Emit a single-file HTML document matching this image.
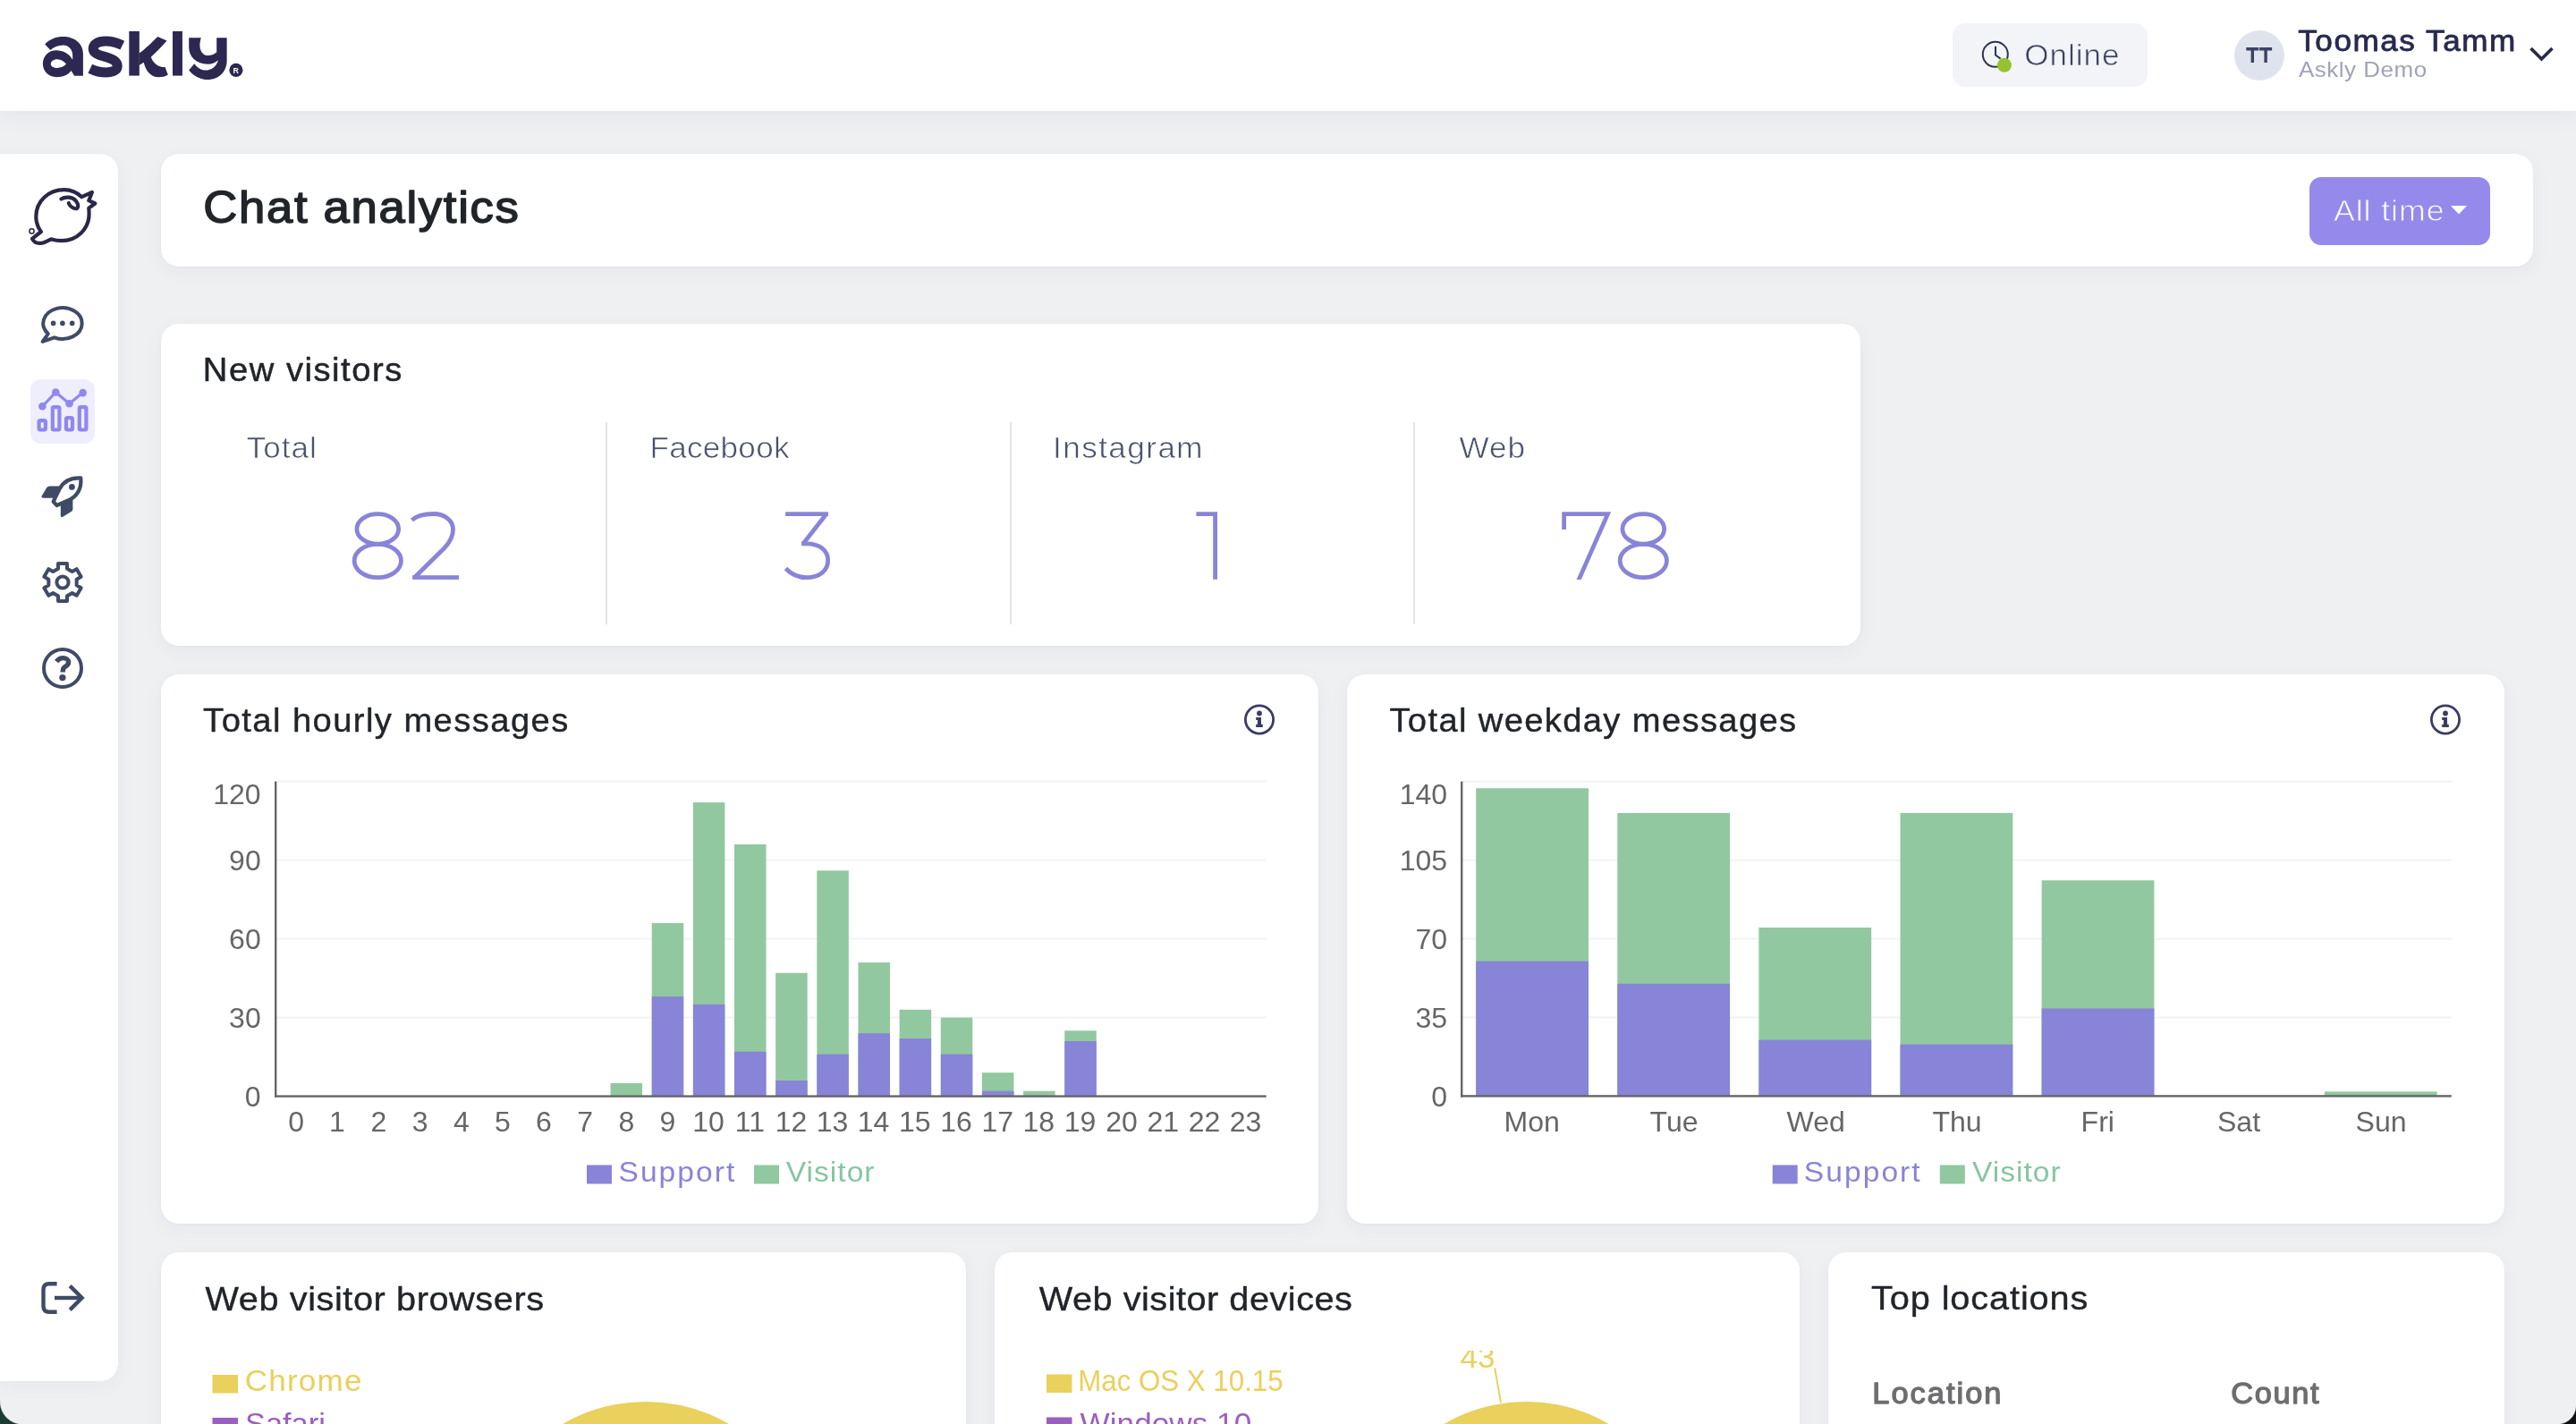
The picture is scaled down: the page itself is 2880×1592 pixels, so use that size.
<!DOCTYPE html>
<html><head><meta charset="utf-8"><title>Chat analytics</title>
<style>
html,body{margin:0;padding:0;overflow:hidden;background:#eff0f2;font-family:"Liberation Sans",sans-serif;}
#root{position:relative;width:2880px;height:1592px;overflow:hidden;background:#eff0f2;}
@media (max-width:1800px){#root{zoom:0.5}}
.a{position:absolute}
.card{position:absolute;background:#fff;border-radius:20px;box-shadow:0 6px 22px rgba(40,45,80,0.045),0 1px 3px rgba(40,45,80,0.03)}
svg text{font-family:"Liberation Sans",sans-serif;}
</style></head><body><div id="root">

<div class="a" style="left:0;top:0;width:2880px;height:124px;background:#fff;box-shadow:0 3px 26px rgba(40,45,80,0.07)"></div>
<div class="a" style="left:2183px;top:26px;width:218px;height:71px;border-radius:14px;background:#f3f4f7"></div>
<div class="a" style="left:2498px;top:34px;width:56px;height:56px;border-radius:50%;background:#dfe3ee"></div>
<div class="a" style="left:0;top:172px;width:132px;height:1372px;background:#fff;border-radius:0 20px 20px 0;box-shadow:0 6px 22px rgba(40,45,80,0.045)"></div>
<div class="a" style="left:34px;top:424px;width:72px;height:72px;border-radius:12px;background:#efeefc"></div>
<div class="card" style="left:180px;top:172px;width:2652px;height:126px"></div>
<div class="card" style="left:180px;top:362px;width:1900px;height:360px"></div>
<div class="card" style="left:180px;top:754px;width:1294px;height:614px"></div>
<div class="card" style="left:1506px;top:754px;width:1294px;height:614px"></div>
<div class="card" style="left:180px;top:1400px;width:900px;height:300px"></div>
<div class="card" style="left:1112px;top:1400px;width:900px;height:300px"></div>
<div class="card" style="left:2044px;top:1400px;width:756px;height:300px"></div>
<div class="a" style="left:2582px;top:198px;width:202px;height:76px;border-radius:13px;background:#958aeb"></div>
<div class="a" style="left:677px;top:472px;width:2px;height:226px;background:#e3e4e8"></div>
<div class="a" style="left:1129px;top:472px;width:2px;height:226px;background:#e3e4e8"></div>
<div class="a" style="left:1580px;top:472px;width:2px;height:226px;background:#e3e4e8"></div>
<div class="a" style="left:0;top:1566px;width:27px;height:26px;background:radial-gradient(circle at 25.4px 1px, rgba(0,0,0,0) 24.8px, #1c3d31 26px)"></div>
<div class="a" style="left:2857px;top:1570px;width:23px;height:22px;background:radial-gradient(circle at 2.2px 1.4px, rgba(0,0,0,0) 20.3px, #121212 21.5px)"></div>
<svg class="a" style="left:0;top:0;will-change:transform" width="2880" height="1592" viewBox="0 0 2880 1592">
<g fill="#2c2851">
<path fill-rule="evenodd" d="M50.2,49.4 C56,43.5 63,41 70.3,41 C84,41 92.9,49 92.9,60 L92.9,84.8 L83.1,84.8 L79.6,79 C76,84 70,86.2 63.3,86.2 C54,86.2 47.9,79.5 47.9,71.3 C47.9,62.5 54.5,56.2 62.8,56.2 C70.5,56.2 77.5,60 81.2,66.7 L81.2,62 C81.2,55 76.5,50.4 70.5,50.4 C65,50.4 60,52.5 56.3,55.9 Z M56.8,71.5 C56.8,68.5 60,66.2 64,66.2 C68,66.2 71.5,68.5 74,71.6 C71.5,74.5 68,76 64,76 C60,76 56.8,74.3 56.8,71.5 Z"/>
<path fill="none" stroke="#2c2851" stroke-width="11" d="M136.8,50.6 C130,47.3 124,46 118,46 C109.5,46 104.2,49.5 104.2,54.2 C104.2,59 108.5,61 117,63.3 C126,65.8 131.2,68.5 131.2,74 C131.2,78.6 126,81 118.5,81 C112,81 106,79.2 100.8,76.7"/>
<rect x="144.3" y="34.9" width="11.5" height="49.7"/>
<path d="M155.6,59.6 C162,55 170,47 176.4,40.9 L186.5,45.5 C180,53 175,58 168.8,63.7 C171,70 176,75 184.6,75.1 L187.8,83.8 C185,85.5 181,86.3 177.5,86.3 C168,86.3 162.5,78 160.7,69.7 L155.6,72.9 Z"/>
<rect x="193" y="34.9" width="10.9" height="49.7"/>
<path d="M242.2,42.2 L253.6,42.2 L253.6,68 C253.6,80.5 244,89 232.4,89 C223.5,89 216,84.5 211.2,78.4 L217.2,71.3 C220.5,75.8 225,78.6 229.7,78.6 C236.5,78.6 241.5,74.5 243.8,68 L242.2,66 Z"/>
<path d="M211.2,42.2 L224.8,42.2 C223.8,45.5 223.2,49 223.5,52.5 C224.2,58.5 228,62.1 232.4,62.1 C236.5,62.1 240,60.5 242.4,58 L243.6,67.6 C240,70.5 236.5,71.8 232.4,71.8 C219.5,71.8 211.2,63.5 211.2,52.8 Z"/>
<circle cx="263.9" cy="78.4" r="7.6"/>
</g>
<text x="260.5" y="81.6" font-size="8.8" font-weight="bold" fill="#fff">R</text>
<g fill="none" stroke="#2f3352" stroke-width="2">
<circle cx="2230.8" cy="60.8" r="14"/>
<path d="M2231,51.8 L2231,61.6 L2236.6,65.6" stroke-linejoin="miter"/>
</g>
<circle cx="2240.9" cy="72.8" r="8" fill="#95c22e"/>
<path d="M2829.5,54 L2841.5,66 L2853.5,54" fill="none" stroke="#262a4d" stroke-width="3.6"/>
<g fill="none" stroke="#2a2748" stroke-width="4.2" stroke-linejoin="round" stroke-linecap="round">
<path d="M91.4,220.2 C86,215 79,212.1 71.8,212.1 C54,212.1 40.3,225 40.3,242.1 C40.3,249 42.5,254.5 45.9,259 L36,266.9 C38,271 42,272.6 47,271.7 C51,270.8 54.5,268.2 57.7,267.4 C61,268.5 65,269.1 68.9,269.1 C86,269.1 99.6,256 99.6,239.3 C99.6,237 99.5,235 99.3,232.6 L106.3,227.5 L99.3,224.2 L102.9,214.9 Z"/>
<path d="M68.4,222.5 C73,219.6 81,219.8 85.2,225 C88.5,229.5 87.5,233.8 84.3,233.2 C80.5,232.5 77.5,229.5 76.8,227"/>
</g>
<circle cx="35.5" cy="258.4" r="2.6" fill="#fff" stroke="#2a2748" stroke-width="1.5"/>
<g fill="none" stroke="#3f4b66" stroke-width="4" stroke-linejoin="round">
<path d="M60.83,377.27 A21.7,17.4 0 1 0 53.87,373.14 L47.6,381.9 Z"/>
</g>
<circle cx="59.6" cy="361.4" r="2.8" fill="#3f4b66"/>
<circle cx="69.9" cy="361.4" r="2.8" fill="#3f4b66"/>
<circle cx="80.7" cy="361.4" r="2.8" fill="#3f4b66"/>
<g fill="none" stroke="#8f88ee" stroke-width="3.2" stroke-linejoin="round">
<path d="M47.4,454.3 L62.3,438.5 L77.5,451.2 L92.6,439.1"/>
</g>
<circle cx="47.4" cy="454.3" r="4.3" fill="#8f88ee"/>
<circle cx="62.3" cy="438.5" r="4.3" fill="#8f88ee"/>
<circle cx="77.5" cy="451.2" r="4.3" fill="#8f88ee"/>
<circle cx="92.6" cy="439.1" r="4.3" fill="#8f88ee"/>
<g fill="none" stroke="#8f88ee" stroke-width="4.2">
<rect x="43.6" y="470.1" width="7.3" height="10.4" rx="1.5"/>
<rect x="58.8" y="455.2" width="7.6" height="25.3" rx="1.5"/>
<rect x="74.0" y="467.1" width="7.0" height="13.4" rx="1.5"/>
<rect x="88.8" y="455.2" width="7.6" height="25.3" rx="1.5"/>
</g>
<g fill="#3f4b66">
<path fill="none" stroke="#3f4b66" stroke-width="4.2" stroke-linejoin="round" d="M90.3,534.4 C79,533.8 71,538.2 66.6,546.6 L59.6,560.8 L63.6,565 L78.4,558.4 C87,553.6 91.3,546 90.3,534.4 Z"/>
<path d="M68.6,543.4 L55.5,543.4 Q53.3,543.4 52.2,545.2 L46.8,554.3 Q45.9,556.8 48.6,556.8 L60.8,556.8 Z"/>
<path d="M81.4,557 L81.4,569.6 Q81.4,571.1 80,571.8 L70.3,577.7 Q67.8,578.9 67.8,576.4 L67.8,563.2 Z"/>
<circle cx="80.4" cy="544.4" r="3.4"/>
</g>
<path fill="none" stroke="#3f4b66" stroke-width="4" stroke-linejoin="round" d="M65.00,635.80 L65.00,630.00 L75.00,630.00 L75.00,635.80 L80.66,639.07 L85.69,636.17 L90.69,644.83 L85.66,647.73 L85.66,654.27 L90.69,657.17 L85.69,665.83 L80.66,662.93 L75.00,666.20 L75.00,672.00 L65.00,672.00 L65.00,666.20 L59.34,662.93 L54.31,665.83 L49.31,657.17 L54.34,654.27 L54.34,647.73 L49.31,644.83 L54.31,636.17 L59.34,639.07 Z"/>
<circle cx="70" cy="651" r="6.6" fill="none" stroke="#3f4b66" stroke-width="4"/>
<circle cx="70" cy="747" r="21" fill="none" stroke="#3f4b66" stroke-width="4"/>
<path fill="none" stroke="#3f4b66" stroke-width="5.4" d="M63.2,739.6 C65,737 67.5,735.6 70.5,735.6 C74,735.6 76.6,737.8 76.6,740.6 C76.6,743.5 74,744.8 72,746 C70.5,747 70.2,748.5 70.2,751.6"/>
<circle cx="69.9" cy="757.6" r="3.7" fill="#3f4b66"/>
<g fill="none" stroke="#3f4b66" stroke-width="4.4">
<path d="M63.6,1435.2 L55,1435.2 Q48.5,1435.2 48.5,1441.7 L48.5,1460.2 Q48.5,1466.7 55,1466.7 L63.6,1466.7"/>
<path d="M61,1451 L91,1451"/>
<path d="M78.2,1437.6 L91.6,1451 L78.2,1464.4"/>
</g>
<circle cx="1408" cy="804.5" r="15.6" fill="none" stroke="#393d62" stroke-width="2.8"/>
<circle cx="1408" cy="797.5" r="2.9" fill="#393d62"/>
<path fill="#393d62" d="M1404.2,801.9 L1410,801.9 L1410,809.8 L1411.8,809.8 L1411.8,813.1 L1404.2,813.1 L1404.2,809.8 L1406,809.8 L1406,805.1 L1404.2,805.1 Z"/>
<circle cx="2734" cy="804.5" r="15.6" fill="none" stroke="#393d62" stroke-width="2.8"/>
<circle cx="2734" cy="797.5" r="2.9" fill="#393d62"/>
<path fill="#393d62" d="M2730.2,801.9 L2736,801.9 L2736,809.8 L2737.8,809.8 L2737.8,813.1 L2730.2,813.1 L2730.2,809.8 L2732,809.8 L2732,805.1 L2730.2,805.1 Z"/>
<g fill="none" stroke="#8884d8" stroke-width="4.8">
<ellipse cx="422.3" cy="591.4" rx="23.35" ry="16.85"/><ellipse cx="422.3" cy="627" rx="26.15" ry="18.7"/>
<path d="M460.5,581.5 C466,576.5 475,574.5 484.5,574.5 C497,574.5 506.5,581.5 506.5,592 C506.5,600 503,606 497,612.5 L463.5,645.5"/>
<rect x="461.1" y="643.2" width="52" height="4.7" fill="#8884d8" stroke="none"/>
<rect x="878.1" y="572.3" width="47.9" height="4.7" fill="#8884d8" stroke="none"/>
<path d="M923.2,575.5 L897.5,608.5"/>
<path d="M896.2,607.8 L902,607.8 C916,607.8 925.7,615 925.7,626.5 C925.7,638 916,645.7 902,645.7 C892,645.7 884.5,642 878.5,635.5"/>
<path d="M1337.4,574.6 L1358.6,574.6 L1358.6,647.8" stroke-linejoin="miter"/>
<clipPath id="c7"><rect x="1740" y="560" width="70" height="87.9"/></clipPath>
<path d="M1748.6,592 L1748.6,574.6 L1797.5,574.6 L1764.2,650.2" stroke-linejoin="miter" clip-path="url(#c7)"/>
<ellipse cx="1837.3" cy="591.4" rx="23.35" ry="16.85"/><ellipse cx="1837.3" cy="627" rx="26.15" ry="18.7"/>
</g>
<text x="2263.33" y="73.00" font-size="33.43" fill="#3b4261" letter-spacing="0.898" textLength="107.12" lengthAdjust="spacingAndGlyphs" stroke="#f3f4f7" stroke-width="0.7">Online</text>
<path fill="#3b4261" d="M2511.3,53.1 h14 v3.3 h-5.3 v13.6 h-3.4 v-13.6 h-5.3 Z"/>
<path fill="#3b4261" d="M2526.1,53.1 h14 v3.3 h-5.3 v13.6 h-3.4 v-13.6 h-5.3 Z"/>
<text x="2569.21" y="57.00" font-size="33.43" fill="#262a4d" letter-spacing="1.479" textLength="244.66" lengthAdjust="spacingAndGlyphs" stroke="#262a4d" stroke-width="0.8" stroke-linejoin="round">Toomas Tamm</text>
<text x="2569.94" y="86.00" font-size="24.71" fill="#a0a3b6" letter-spacing="0.503" textLength="143.68" lengthAdjust="spacingAndGlyphs">Askly Demo</text>
<text x="227.37" y="249.00" font-size="50.15" fill="#212529" letter-spacing="1.598" textLength="354.19" lengthAdjust="spacingAndGlyphs" stroke="#212529" stroke-width="1.5" stroke-linejoin="round">Chat analytics</text>
<text x="2608.91" y="247.00" font-size="34.01" fill="#ffffff" letter-spacing="0.893" textLength="124.57" lengthAdjust="spacingAndGlyphs" stroke="#958aeb" stroke-width="0.8">All time</text>
<path d="M2740,230 L2758,230 L2749,239.5 Z" fill="#fff"/>
<text x="226.85" y="426.00" font-size="36.34" fill="#212529" letter-spacing="1.457" textLength="224.00" lengthAdjust="spacingAndGlyphs" stroke="#212529" stroke-width="0.5" stroke-linejoin="round">New visitors</text>
<text x="275.71" y="511.50" font-size="33.43" fill="#4a516b" letter-spacing="0.954" textLength="79.15" lengthAdjust="spacingAndGlyphs" stroke="#fff" stroke-width="0.6">Total</text>
<text x="726.60" y="511.50" font-size="33.43" fill="#4a516b" letter-spacing="0.233" textLength="156.11" lengthAdjust="spacingAndGlyphs" stroke="#fff" stroke-width="0.6">Facebook</text>
<text x="1177.05" y="511.50" font-size="33.43" fill="#4a516b" letter-spacing="1.369" textLength="169.01" lengthAdjust="spacingAndGlyphs" stroke="#fff" stroke-width="0.6">Instagram</text>
<text x="1631.42" y="511.50" font-size="33.43" fill="#4a516b" letter-spacing="0.981" textLength="74.63" lengthAdjust="spacingAndGlyphs" stroke="#fff" stroke-width="0.6">Web</text>
<text x="227.14" y="818.00" font-size="36.34" fill="#212529" letter-spacing="1.360" textLength="409.59" lengthAdjust="spacingAndGlyphs" stroke="#212529" stroke-width="0.4" stroke-linejoin="round">Total hourly messages</text>
<text x="1553.44" y="818.00" font-size="36.34" fill="#212529" letter-spacing="1.289" textLength="456.04" lengthAdjust="spacingAndGlyphs" stroke="#212529" stroke-width="0.4" stroke-linejoin="round">Total weekday messages</text>
<text x="229.50" y="1465.00" font-size="37.79" fill="#212529" letter-spacing="0.554" textLength="379.14" lengthAdjust="spacingAndGlyphs" stroke="#212529" stroke-width="0.4" stroke-linejoin="round">Web visitor browsers</text>
<text x="1161.80" y="1465.00" font-size="37.79" fill="#212529" letter-spacing="0.478" textLength="350.62" lengthAdjust="spacingAndGlyphs" stroke="#212529" stroke-width="0.4" stroke-linejoin="round">Web visitor devices</text>
<text x="2092.11" y="1464.00" font-size="37.79" fill="#212529" letter-spacing="0.845" textLength="243.15" lengthAdjust="spacingAndGlyphs" stroke="#212529" stroke-width="0.4" stroke-linejoin="round">Top locations</text>
<text x="2093.37" y="1568.90" font-size="32.70" fill="#6e6e70" letter-spacing="1.929" textLength="146.03" lengthAdjust="spacingAndGlyphs" stroke="#6e6e70" stroke-width="1.3" stroke-linejoin="round">Location</text>
<text x="2494.18" y="1568.90" font-size="32.70" fill="#6e6e70" letter-spacing="1.613" textLength="100.10" lengthAdjust="spacingAndGlyphs" stroke="#6e6e70" stroke-width="1.3" stroke-linejoin="round">Count</text>
<rect x="308" y="1136.60" width="1107.70" height="2" fill="#f3f3f3"/>
<rect x="308" y="1048.60" width="1107.70" height="2" fill="#f3f3f3"/>
<rect x="308" y="960.60" width="1107.70" height="2" fill="#f3f3f3"/>
<rect x="308" y="872.60" width="1107.70" height="2" fill="#f3f3f3"/>
<rect x="682.56" y="1210.93" width="35.50" height="14.67" fill="#91c8a0"/>
<rect x="728.71" y="1032.00" width="35.50" height="193.60" fill="#91c8a0"/>
<rect x="728.71" y="1114.13" width="35.50" height="111.47" fill="#8884d8"/>
<rect x="774.87" y="897.07" width="35.50" height="328.53" fill="#91c8a0"/>
<rect x="774.87" y="1122.93" width="35.50" height="102.67" fill="#8884d8"/>
<rect x="821.02" y="944.00" width="35.50" height="281.60" fill="#91c8a0"/>
<rect x="821.02" y="1175.73" width="35.50" height="49.87" fill="#8884d8"/>
<rect x="867.18" y="1087.73" width="35.50" height="137.87" fill="#91c8a0"/>
<rect x="867.18" y="1208.00" width="35.50" height="17.60" fill="#8884d8"/>
<rect x="913.33" y="973.33" width="35.50" height="252.27" fill="#91c8a0"/>
<rect x="913.33" y="1178.67" width="35.50" height="46.93" fill="#8884d8"/>
<rect x="959.49" y="1076.00" width="35.50" height="149.60" fill="#91c8a0"/>
<rect x="959.49" y="1155.20" width="35.50" height="70.40" fill="#8884d8"/>
<rect x="1005.64" y="1128.80" width="35.50" height="96.80" fill="#91c8a0"/>
<rect x="1005.64" y="1161.07" width="35.50" height="64.53" fill="#8884d8"/>
<rect x="1051.79" y="1137.60" width="35.50" height="88.00" fill="#91c8a0"/>
<rect x="1051.79" y="1178.67" width="35.50" height="46.93" fill="#8884d8"/>
<rect x="1097.95" y="1199.20" width="35.50" height="26.40" fill="#91c8a0"/>
<rect x="1097.95" y="1219.73" width="35.50" height="5.87" fill="#8884d8"/>
<rect x="1144.10" y="1219.73" width="35.50" height="5.87" fill="#91c8a0"/>
<rect x="1190.26" y="1152.27" width="35.50" height="73.33" fill="#91c8a0"/>
<rect x="1190.26" y="1164.00" width="35.50" height="61.60" fill="#8884d8"/>
<rect x="307.00" y="873.60" width="2.4" height="353.20" fill="#666666"/>
<rect x="307.00" y="1224.40" width="1108.70" height="2.4" fill="#666666"/>
<text x="273.84" y="1237.10" font-size="32.00" fill="#666666">0</text>
<text x="256.08" y="1149.10" font-size="32.00" fill="#666666">30</text>
<text x="256.08" y="1061.10" font-size="32.00" fill="#666666">60</text>
<text x="256.08" y="973.10" font-size="32.00" fill="#666666">90</text>
<text x="238.24" y="899.00" font-size="32.00" fill="#666666">120</text>
<text x="322.16" y="1265.00" font-size="32.00" fill="#666666">0</text>
<text x="367.91" y="1265.00" font-size="32.00" fill="#666666">1</text>
<text x="414.51" y="1265.00" font-size="32.00" fill="#666666">2</text>
<text x="460.74" y="1265.00" font-size="32.00" fill="#666666">3</text>
<text x="506.89" y="1265.00" font-size="32.00" fill="#666666">4</text>
<text x="552.97" y="1265.00" font-size="32.00" fill="#666666">5</text>
<text x="599.00" y="1265.00" font-size="32.00" fill="#666666">6</text>
<text x="645.28" y="1265.00" font-size="32.00" fill="#666666">7</text>
<text x="691.43" y="1265.00" font-size="32.00" fill="#666666">8</text>
<text x="737.54" y="1265.00" font-size="32.00" fill="#666666">9</text>
<text x="774.26" y="1265.00" font-size="32.00" fill="#666666">10</text>
<text x="821.73" y="1265.00" font-size="32.00" fill="#666666">11</text>
<text x="866.77" y="1265.00" font-size="32.00" fill="#666666">12</text>
<text x="912.80" y="1265.00" font-size="32.00" fill="#666666">13</text>
<text x="958.72" y="1265.00" font-size="32.00" fill="#666666">14</text>
<text x="1005.07" y="1265.00" font-size="32.00" fill="#666666">15</text>
<text x="1051.26" y="1265.00" font-size="32.00" fill="#666666">16</text>
<text x="1097.54" y="1265.00" font-size="32.00" fill="#666666">17</text>
<text x="1143.57" y="1265.00" font-size="32.00" fill="#666666">18</text>
<text x="1189.77" y="1265.00" font-size="32.00" fill="#666666">19</text>
<text x="1236.20" y="1265.00" font-size="32.00" fill="#666666">20</text>
<text x="1282.51" y="1265.00" font-size="32.00" fill="#666666">21</text>
<text x="1328.71" y="1265.00" font-size="32.00" fill="#666666">22</text>
<text x="1374.74" y="1265.00" font-size="32.00" fill="#666666">23</text>
<rect x="1634" y="1136.48" width="1106.80" height="2" fill="#f3f3f3"/>
<rect x="1634" y="1048.55" width="1106.80" height="2" fill="#f3f3f3"/>
<rect x="1634" y="960.62" width="1106.80" height="2" fill="#f3f3f3"/>
<rect x="1634" y="872.70" width="1106.80" height="2" fill="#f3f3f3"/>
<rect x="1650.16" y="881.24" width="125.80" height="344.16" fill="#91c8a0"/>
<rect x="1650.16" y="1074.67" width="125.80" height="150.73" fill="#8884d8"/>
<rect x="1808.27" y="908.87" width="125.80" height="316.53" fill="#91c8a0"/>
<rect x="1808.27" y="1099.79" width="125.80" height="125.61" fill="#8884d8"/>
<rect x="1966.39" y="1036.99" width="125.80" height="188.41" fill="#91c8a0"/>
<rect x="1966.39" y="1162.60" width="125.80" height="62.80" fill="#8884d8"/>
<rect x="2124.50" y="908.87" width="125.80" height="316.53" fill="#91c8a0"/>
<rect x="2124.50" y="1167.62" width="125.80" height="57.78" fill="#8884d8"/>
<rect x="2282.61" y="984.23" width="125.80" height="241.17" fill="#91c8a0"/>
<rect x="2282.61" y="1127.43" width="125.80" height="97.97" fill="#8884d8"/>
<rect x="2598.84" y="1220.38" width="125.80" height="5.02" fill="#91c8a0"/>
<rect x="1633.00" y="873.70" width="2.4" height="352.90" fill="#666666"/>
<rect x="1633.00" y="1224.20" width="1107.80" height="2.4" fill="#666666"/>
<text x="1600.24" y="1236.90" font-size="32.00" fill="#666666">0</text>
<text x="1582.56" y="1148.98" font-size="32.00" fill="#666666">35</text>
<text x="1582.48" y="1061.05" font-size="32.00" fill="#666666">70</text>
<text x="1564.72" y="973.12" font-size="32.00" fill="#666666">105</text>
<text x="1564.64" y="899.00" font-size="32.00" fill="#666666">140</text>
<text x="1681.62" y="1265.00" font-size="32.00" fill="#666666">Mon</text>
<text x="1844.53" y="1265.00" font-size="32.00" fill="#666666">Tue</text>
<text x="1997.61" y="1265.00" font-size="32.00" fill="#666666">Wed</text>
<text x="2160.52" y="1265.00" font-size="32.00" fill="#666666">Thu</text>
<text x="2326.59" y="1265.00" font-size="32.00" fill="#666666">Fri</text>
<text x="2479.03" y="1265.00" font-size="32.00" fill="#666666">Sat</text>
<text x="2633.58" y="1265.00" font-size="32.00" fill="#666666">Sun</text>
<rect x="656" y="1302.5" width="28" height="21" fill="#8884d8"/>
<text x="691.49" y="1320.80" font-size="31.98" fill="#8884d8" letter-spacing="1.931" textLength="131.79" lengthAdjust="spacingAndGlyphs">Support</text>
<rect x="843" y="1302.5" width="28" height="21" fill="#91c8a0"/>
<text x="878.83" y="1320.80" font-size="31.98" fill="#86c6a0" letter-spacing="0.953" textLength="99.68" lengthAdjust="spacingAndGlyphs">Visitor</text>
<rect x="1981.7" y="1302.5" width="28" height="21" fill="#8884d8"/>
<text x="2016.89" y="1320.80" font-size="31.98" fill="#8884d8" letter-spacing="1.931" textLength="131.79" lengthAdjust="spacingAndGlyphs">Support</text>
<rect x="2168.8" y="1302.5" width="28" height="21" fill="#91c8a0"/>
<text x="2205.03" y="1320.80" font-size="31.98" fill="#86c6a0" letter-spacing="0.953" textLength="99.68" lengthAdjust="spacingAndGlyphs">Visitor</text>
<circle cx="722" cy="1752.5" r="185.5" fill="#ead05c"/>
<circle cx="1706.6" cy="1749" r="182" fill="#ead05c"/>
<path d="M1671.2,1529.4 L1678,1568.4" stroke="#ead05c" stroke-width="2" fill="none"/>
<clipPath id="c43"><rect x="1600" y="1510" width="120" height="40"/></clipPath>
<g clip-path="url(#c43)"><text x="1632.51" y="1529.00" font-size="33.43" fill="#ead05c" letter-spacing="0.018" textLength="39.08" lengthAdjust="spacingAndGlyphs">43</text></g>
<rect x="237.5" y="1537" width="28.5" height="20.5" fill="#ead05c"/>
<text x="273.74" y="1555.00" font-size="33.43" fill="#ead05c" letter-spacing="1.135" textLength="132.00" lengthAdjust="spacingAndGlyphs">Chrome</text>
<rect x="237.5" y="1585" width="28.5" height="20.5" fill="#9b5fc0"/>
<text x="273.95" y="1603.00" font-size="33.43" fill="#9b5fc0" letter-spacing="0.000" textLength="89.86" lengthAdjust="spacingAndGlyphs">Safari</text>
<rect x="1170" y="1536.5" width="28.5" height="20.5" fill="#ead05c"/>
<text x="1205.22" y="1554.80" font-size="33.43" fill="#ead05c" letter-spacing="0.000" textLength="229.39" lengthAdjust="spacingAndGlyphs">Mac OS X 10.15</text>
<rect x="1170" y="1584.5" width="28.5" height="20.5" fill="#9b5fc0"/>
<text x="1207.62" y="1602.80" font-size="33.43" fill="#9b5fc0" letter-spacing="0.038" textLength="191.60" lengthAdjust="spacingAndGlyphs">Windows 10</text>
</svg>
</div></body></html>
